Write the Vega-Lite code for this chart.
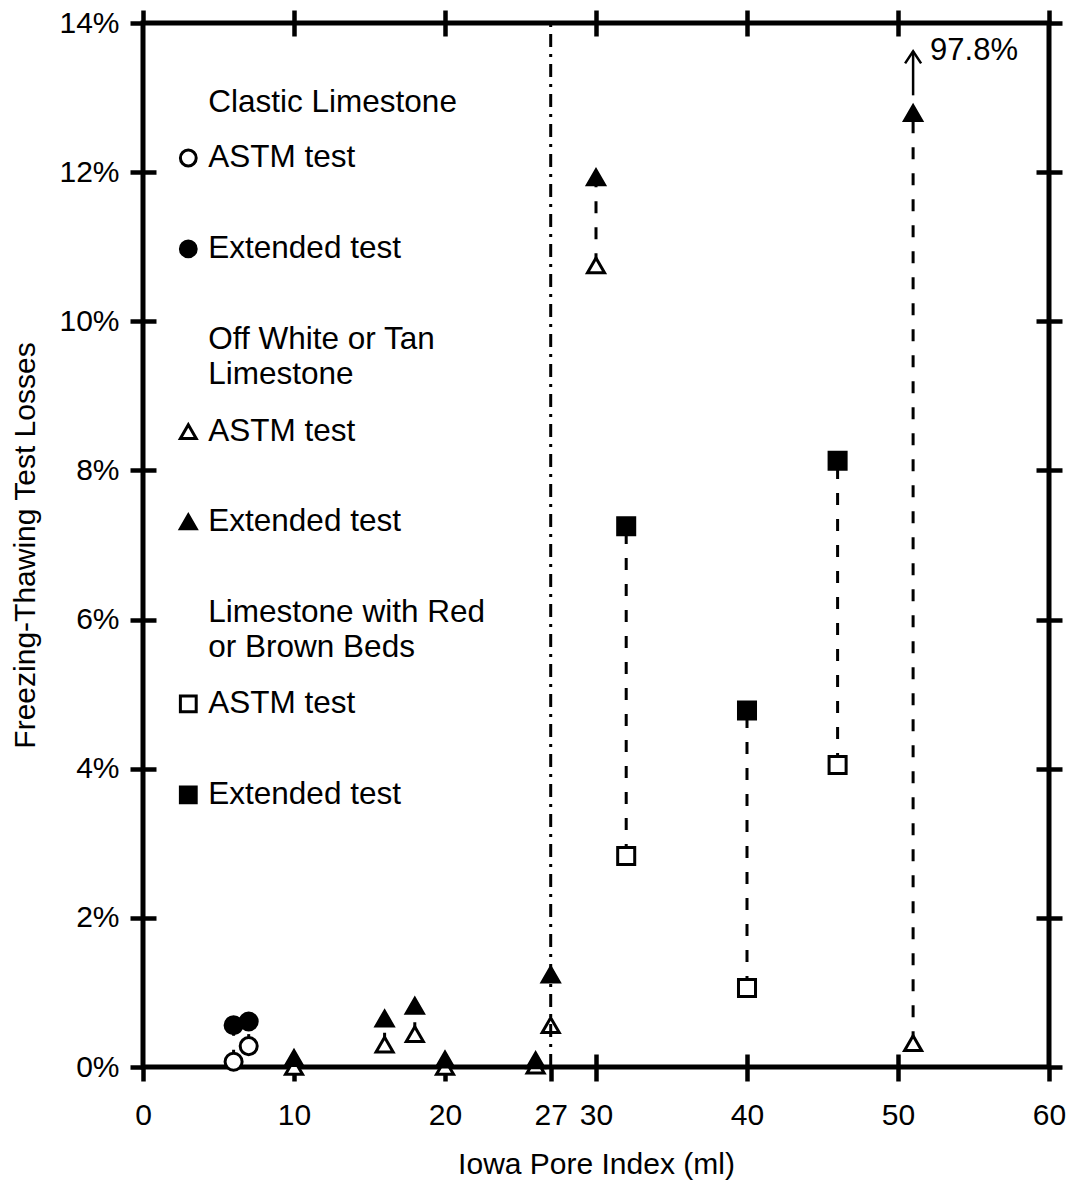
{
  "$schema": "https://vega.github.io/schema/vega-lite/v6.json",
  "width": 906,
  "height": 1044,
  "autosize": {"type": "none"},
  "padding": {"left": 143, "top": 23, "right": 21, "bottom": 122},
  "background": "white",
  "datasets": {
    "losses": [
      {"rock": "Clastic Limestone", "ipi": 6, "test": "ASTM", "loss": 0.07},
      {"rock": "Clastic Limestone", "ipi": 7, "test": "ASTM", "loss": 0.28},
      {"rock": "Off White or Tan Limestone", "ipi": 10, "test": "ASTM", "loss": 0.0},
      {"rock": "Off White or Tan Limestone", "ipi": 16, "test": "ASTM", "loss": 0.30},
      {"rock": "Off White or Tan Limestone", "ipi": 18, "test": "ASTM", "loss": 0.44},
      {"rock": "Off White or Tan Limestone", "ipi": 20, "test": "ASTM", "loss": 0.0},
      {"rock": "Off White or Tan Limestone", "ipi": 26, "test": "ASTM", "loss": 0.02},
      {"rock": "Off White or Tan Limestone", "ipi": 27, "test": "ASTM", "loss": 0.56},
      {"rock": "Off White or Tan Limestone", "ipi": 30, "test": "ASTM", "loss": 10.75},
      {"rock": "Off White or Tan Limestone", "ipi": 51, "test": "ASTM", "loss": 0.32},
      {"rock": "Limestone with Red or Brown Beds", "ipi": 32, "test": "ASTM", "loss": 2.83},
      {"rock": "Limestone with Red or Brown Beds", "ipi": 40, "test": "ASTM", "loss": 1.06},
      {"rock": "Limestone with Red or Brown Beds", "ipi": 46, "test": "ASTM", "loss": 4.05},
      {"rock": "Clastic Limestone", "ipi": 6, "test": "Extended", "loss": 0.56},
      {"rock": "Clastic Limestone", "ipi": 7, "test": "Extended", "loss": 0.61},
      {"rock": "Off White or Tan Limestone", "ipi": 10, "test": "Extended", "loss": 0.12},
      {"rock": "Off White or Tan Limestone", "ipi": 16, "test": "Extended", "loss": 0.65},
      {"rock": "Off White or Tan Limestone", "ipi": 18, "test": "Extended", "loss": 0.82},
      {"rock": "Off White or Tan Limestone", "ipi": 20, "test": "Extended", "loss": 0.10},
      {"rock": "Off White or Tan Limestone", "ipi": 26, "test": "Extended", "loss": 0.09},
      {"rock": "Off White or Tan Limestone", "ipi": 27, "test": "Extended", "loss": 1.24},
      {"rock": "Off White or Tan Limestone", "ipi": 30, "test": "Extended", "loss": 11.93},
      {"rock": "Off White or Tan Limestone", "ipi": 51, "test": "Extended", "loss": 12.79},
      {"rock": "Limestone with Red or Brown Beds", "ipi": 32, "test": "Extended", "loss": 7.25},
      {"rock": "Limestone with Red or Brown Beds", "ipi": 40, "test": "Extended", "loss": 4.78},
      {"rock": "Limestone with Red or Brown Beds", "ipi": 46, "test": "Extended", "loss": 8.13}
    ],
    "key": [
      {"text": "Clastic Limestone", "ky": 12.93},
      {"text": "ASTM test", "rock": "Clastic Limestone", "test": "ASTM", "ky": 12.19},
      {"text": "Extended test", "rock": "Clastic Limestone", "test": "Extended", "ky": 10.97},
      {"text": "Off White or Tan\nLimestone", "ky": 9.75},
      {"text": "ASTM test", "rock": "Off White or Tan Limestone", "test": "ASTM", "ky": 8.52},
      {"text": "Extended test", "rock": "Off White or Tan Limestone", "test": "Extended", "ky": 7.31},
      {"text": "Limestone with Red\nor Brown Beds", "ky": 6.09},
      {"text": "ASTM test", "rock": "Limestone with Red or Brown Beds", "test": "ASTM", "ky": 4.87},
      {"text": "Extended test", "rock": "Limestone with Red or Brown Beds", "test": "Extended", "ky": 3.65}
    ],
    "threshold": [{"ipi": 27}],
    "offscale": [{"ipi": 51, "base": 13.03, "tip": 13.62, "note": "97.8%"}]
  },
  "layer": [
    {
      "data": {"name": "losses"},
      "transform": [
        {"pivot": "test", "value": "loss", "groupby": ["rock", "ipi"]},
        {"filter": "datum.ipi != 27"}
      ],
      "mark": {"type": "rule", "color": "black", "strokeWidth": 3, "strokeDash": [12, 14]},
      "encoding": {
        "x": {"field": "ipi", "type": "quantitative", "scale": {"domain": [0, 60], "nice": false},
              "axis": {"orient": "bottom", "values": [10, 20, 30, 40, 50], "tickSize": -13, "labels": false, "title": null}},
        "y": {"field": "ASTM", "type": "quantitative", "scale": {"domain": [0, 14], "nice": false},
              "axis": {"orient": "left", "values": [2, 4, 6, 8, 10, 12], "tickSize": -13, "labels": false, "title": null}},
        "y2": {"field": "Extended"}
      }
    },
    {
      "data": {"name": "losses"},
      "mark": {"type": "point", "filled": true, "stroke": "black", "strokeWidth": 3, "size": 290, "opacity": 1},
      "encoding": {
        "x": {"field": "ipi", "type": "quantitative", "scale": {"domain": [0, 60], "nice": false},
              "axis": {"orient": "top", "values": [0, 10, 20, 30, 40, 50, 60], "tickSize": 13, "labels": false, "title": null}},
        "y": {"field": "loss", "type": "quantitative", "scale": {"domain": [0, 14], "nice": false},
              "axis": {"orient": "right", "values": [0, 2, 4, 6, 8, 10, 12, 14], "tickSize": 13, "labels": false, "title": null}},
        "shape": {"field": "rock", "type": "nominal", "legend": null,
                  "scale": {"domain": ["Clastic Limestone", "Off White or Tan Limestone", "Limestone with Red or Brown Beds"], "range": ["circle", "triangle-up", "square"]}},
        "fill": {"field": "test", "type": "nominal", "legend": null,
                 "scale": {"domain": ["ASTM", "Extended"], "range": ["white", "black"]}}
      }
    },
    {
      "data": {"name": "threshold"},
      "mark": {"type": "rule", "color": "black", "strokeWidth": 3, "strokeDash": [13, 7, 3, 7]},
      "encoding": {
        "x": {"field": "ipi", "type": "quantitative", "scale": {"domain": [0, 60], "nice": false},
              "axis": {"orient": "bottom", "values": [0, 10, 20, 27, 30, 40, 50, 60], "tickSize": 14,
                       "labelPadding": 19, "labelFlush": false, "labelOverlap": false,
                       "title": "Iowa Pore Index (ml)", "titlePadding": 19}},
        "y": {"datum": 0, "type": "quantitative", "scale": {"domain": [0, 14], "nice": false},
              "axis": {"orient": "left", "values": [0, 2, 4, 6, 8, 10, 12, 14], "tickSize": 13,
                       "labelPadding": 11, "labelFlush": false, "labelOverlap": false,
                       "labelExpr": "datum.value + '%'",
                       "title": "Freezing-Thawing Test Losses", "titlePadding": 18}},
        "y2": {"datum": 14}
      }
    },
    {
      "data": {"name": "offscale"},
      "mark": {"type": "rule", "color": "black", "strokeWidth": 2.5},
      "encoding": {
        "x": {"field": "ipi", "type": "quantitative", "scale": {"domain": [0, 60], "nice": false},
              "axis": {"orient": "top", "values": [10, 20, 30, 40, 50], "tickSize": -13, "labels": false, "title": null}},
        "y": {"field": "base", "type": "quantitative", "scale": {"domain": [0, 14], "nice": false},
              "axis": {"orient": "right", "values": [2, 4, 6, 8, 10, 12], "tickSize": -13, "labels": false, "title": null}},
        "y2": {"field": "tip"}
      }
    },
    {
      "data": {"name": "offscale"},
      "mark": {"type": "point", "shape": "M-1,1.5L0,0L1,1.5", "size": 256, "filled": false, "stroke": "black", "strokeWidth": 2.5, "opacity": 1},
      "encoding": {
        "x": {"field": "ipi", "type": "quantitative", "scale": {"domain": [0, 60], "nice": false}, "axis": null},
        "y": {"field": "tip", "type": "quantitative", "scale": {"domain": [0, 14], "nice": false}, "axis": null}
      }
    },
    {
      "data": {"name": "offscale"},
      "mark": {"type": "text", "align": "left", "baseline": "middle", "dx": 17, "font": "Liberation Sans", "fontSize": 31, "color": "black"},
      "encoding": {
        "x": {"field": "ipi", "type": "quantitative", "scale": {"domain": [0, 60], "nice": false}, "axis": null},
        "y": {"field": "tip", "type": "quantitative", "scale": {"domain": [0, 14], "nice": false}, "axis": null},
        "text": {"field": "note"}
      }
    },
    {
      "data": {"name": "key"},
      "transform": [{"filter": "isValid(datum.test)"}],
      "mark": {"type": "point", "filled": true, "stroke": "black", "strokeWidth": 3, "size": 250, "opacity": 1},
      "encoding": {
        "x": {"datum": 3, "type": "quantitative", "scale": {"domain": [0, 60], "nice": false}, "axis": null},
        "y": {"field": "ky", "type": "quantitative", "scale": {"domain": [0, 14], "nice": false}, "axis": null},
        "shape": {"field": "rock", "type": "nominal", "legend": null,
                  "scale": {"domain": ["Clastic Limestone", "Off White or Tan Limestone", "Limestone with Red or Brown Beds"], "range": ["circle", "triangle-up", "square"]}},
        "fill": {"field": "test", "type": "nominal", "legend": null,
                 "scale": {"domain": ["ASTM", "Extended"], "range": ["white", "black"]}}
      }
    },
    {
      "data": {"name": "key"},
      "mark": {"type": "text", "align": "left", "baseline": "middle", "dx": 20, "font": "Liberation Sans", "fontSize": 31.5, "color": "black", "lineBreak": "\n", "lineHeight": 35},
      "encoding": {
        "x": {"datum": 3, "type": "quantitative", "scale": {"domain": [0, 60], "nice": false}, "axis": null},
        "y": {"field": "ky", "type": "quantitative", "scale": {"domain": [0, 14], "nice": false}, "axis": null},
        "text": {"field": "text"}
      }
    }
  ],
  "resolve": {"axis": {"x": "independent", "y": "independent"}},
  "config": {
    "view": {"stroke": "black", "strokeWidth": 5},
    "axis": {
      "grid": false,
      "domain": false,
      "ticks": true,
      "tickColor": "black",
      "tickWidth": 4.5,
      "labelColor": "black",
      "labelFont": "Liberation Sans",
      "labelFontSize": 30,
      "titleColor": "black",
      "titleFont": "Liberation Sans",
      "titleFontSize": 30,
      "titleFontWeight": "normal"
    },
    "text": {"font": "Liberation Sans"}
  }
}
